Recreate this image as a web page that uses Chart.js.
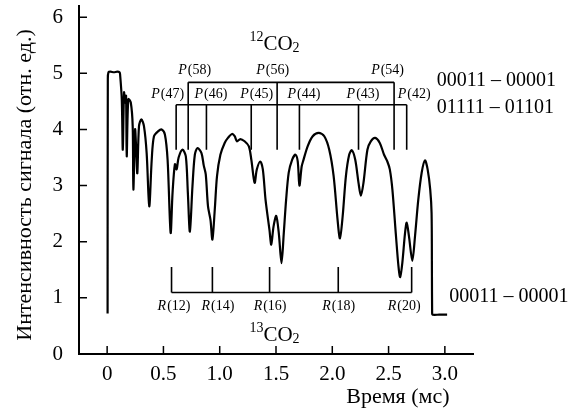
<!DOCTYPE html>
<html>
<head>
<meta charset="utf-8">
<script src="https://cdn.jsdelivr.net/npm/chart.js@4.4.1/dist/chart.umd.min.js"></script>
<style>
  body { margin: 0; background: #fff; }
  #wrap { width: 578px; height: 410px; }
</style>
</head>
<body>
<div id="wrap"><canvas id="chart"></canvas></div>
<script>
// signal trace, time in ms
const time = [
  0.004, 0.006, 0.012, 0.030, 0.060, 0.090, 0.110, 0.115, 0.130, 0.139,
  0.150, 0.159, 0.168, 0.174, 0.188, 0.210, 0.227, 0.233, 0.248, 0.257,
  0.268, 0.283, 0.304, 0.327, 0.351, 0.374, 0.396, 0.416, 0.454, 0.484,
  0.513, 0.537, 0.564, 0.581, 0.602, 0.617, 0.635, 0.670, 0.699, 0.717,
  0.735, 0.758, 0.779, 0.803, 0.838, 0.858, 0.876, 0.896, 0.918, 0.935,
  0.956, 0.976, 1.006, 1.044, 1.073, 1.109, 1.133, 1.153, 1.183, 1.221,
  1.259, 1.281, 1.310, 1.330, 1.360, 1.383, 1.407, 1.442, 1.458, 1.478,
  1.502, 1.525, 1.549, 1.569, 1.590, 1.613, 1.643, 1.673, 1.693, 1.708,
  1.728, 1.743, 1.781, 1.826, 1.879, 1.929, 1.973, 2.012, 2.047, 2.068,
  2.092, 2.121, 2.150, 2.174, 2.204, 2.233, 2.254, 2.277, 2.312, 2.342,
  2.381, 2.422, 2.460, 2.489, 2.511, 2.534, 2.564, 2.588, 2.603, 2.622,
  2.646, 2.661, 2.681, 2.711, 2.735, 2.764, 2.794, 2.823, 2.847, 2.870,
  2.882, 2.885, 2.887, 2.890, 2.950, 3.020
];
const signal = [
  0.72, 4.90, 5.02, 5.03, 5.02, 5.03, 5.02, 4.98, 4.54, 3.64,
  4.66, 4.48, 4.60, 3.52, 4.54, 4.48, 4.06, 2.93, 4.00, 3.70,
  3.22, 4.06, 4.18, 4.06, 3.58, 2.63, 3.46, 3.88, 3.97, 4.00,
  3.91, 3.46, 2.16, 2.87, 3.38, 3.29, 3.50, 3.64, 3.52, 2.87,
  2.18, 2.99, 3.55, 3.67, 3.58, 3.36, 3.20, 2.63, 2.39, 2.04,
  2.57, 3.17, 3.55, 3.76, 3.85, 3.92, 3.88, 3.79, 3.83, 3.79,
  3.70, 3.46, 3.05, 3.29, 3.43, 3.29, 2.75, 2.21, 1.95, 2.27,
  2.46, 2.15, 1.62, 2.15, 2.75, 3.23, 3.46, 3.55, 3.43, 3.00,
  3.34, 3.45, 3.70, 3.88, 3.94, 3.88, 3.64, 3.17, 2.39, 2.06,
  2.45, 3.17, 3.55, 3.63, 3.46, 3.05, 2.82, 3.05, 3.64, 3.79,
  3.85, 3.76, 3.55, 3.43, 3.29, 2.93, 2.15, 1.56, 1.37, 1.62,
  2.15, 2.34, 2.10, 1.66, 2.10, 2.75, 3.23, 3.45, 3.29, 2.93,
  2.51, 1.50, 0.72, 0.70, 0.70, 0.70
];

const xTicks = [0, 0.5, 1.0, 1.5, 2.0, 2.5, 3.0];
const yTicks = [0, 1, 2, 3, 4, 5, 6];

// line assignments (times of the marker lines)
const pUpperNames = ['P(58)', 'P(56)', 'P(54)'];
const pUpperPos = [0.720, 1.510, 2.549];
const pLowerNames = ['P(47)', 'P(46)', 'P(45)', 'P(44)', 'P(43)', 'P(42)'];
const pLowerPos = [0.613, 0.882, 1.280, 1.708, 2.233, 2.661];
const rNames = ['R(12)', 'R(14)', 'R(16)', 'R(18)', 'R(20)'];
const rPos = [0.572, 0.935, 1.443, 2.053, 2.705];

const bandLabels = ['00011 – 00001', '01111 – 01101', '00011 – 00001'];

Chart.defaults.font.family = '"Liberation Serif", serif';
Chart.defaults.color = '#000';

const SERIF = '"Liberation Serif", serif';

function drawLineLabel(ctx, name, cx, cy) {
  // italic branch letter + plain "(J)"
  const letter = name[0], rest = name.slice(1);
  ctx.font = 'italic 14px ' + SERIF;
  const w1 = ctx.measureText(letter).width;
  ctx.font = '14px ' + SERIF;
  const w2 = ctx.measureText(rest).width;
  let x0 = cx - (w1 + w2) / 2;
  ctx.textAlign = 'left';
  ctx.textBaseline = 'middle';
  ctx.font = 'italic 14px ' + SERIF;
  ctx.fillText(letter, x0, cy);
  ctx.font = '14px ' + SERIF;
  ctx.fillText(rest, x0 + w1 + 1, cy);
}

function drawIsotope(ctx, sup, main, sub, cx, base) {
  ctx.textBaseline = 'alphabetic';
  ctx.textAlign = 'left';
  ctx.font = '14px ' + SERIF;
  const ws = ctx.measureText(sup).width;
  const wb = ctx.measureText(sub).width;
  ctx.font = '21px ' + SERIF;
  const wm = ctx.measureText(main).width;
  let x0 = cx - (ws + wm + wb) / 2;
  ctx.font = '14px ' + SERIF;
  ctx.fillText(sup, x0, base - 9);
  ctx.font = '21px ' + SERIF;
  ctx.fillText(main, x0 + ws, base);
  ctx.font = '14px ' + SERIF;
  ctx.fillText(sub, x0 + ws + wm, base + 2);
}

const annotate = {
  id: 'annotate',
  afterDraw(chart) {
    const { ctx, chartArea, scales: { x, y } } = chart;
    const X = v => x.getPixelForValue(v);
    const Y = v => y.getPixelForValue(v);
    ctx.save();
    ctx.strokeStyle = '#000';
    ctx.fillStyle = '#000';

    // inward tick marks
    ctx.lineWidth = 1.5;
    ctx.beginPath();
    x.ticks.forEach(t => { const p = X(t.value); ctx.moveTo(p, chartArea.bottom); ctx.lineTo(p, chartArea.bottom - 8); });
    y.ticks.forEach(t => { const p = Y(t.value); ctx.moveTo(chartArea.left, p); ctx.lineTo(chartArea.left + 8, p); });
    ctx.stroke();

    // comb brackets
    function comb(pos, level, end) {
      ctx.beginPath();
      ctx.moveTo(X(pos[0]), Y(level));
      ctx.lineTo(X(pos[pos.length - 1]), Y(level));
      pos.forEach(p => { ctx.moveTo(X(p), Y(level)); ctx.lineTo(X(p), Y(end)); });
      ctx.stroke();
    }
    ctx.lineWidth = 1.6;
    comb(pUpperPos, 4.84, 3.64);
    comb(pLowerPos, 4.44, 3.64);
    comb(rPos, 1.095, 1.55);

    const upNudge = [6, -5, -7];
    pUpperNames.forEach((n, i) => drawLineLabel(ctx, n, X(pUpperPos[i]) + upNudge[i], Y(4.84) - 12));
    const lowNudge = [-9, 4, 5, 4, 4, 7];
    pLowerNames.forEach((n, i) => drawLineLabel(ctx, n, X(pLowerPos[i]) + lowNudge[i], Y(4.44) - 10));
    const rNudge = [2, 5, 0, 0, -8];
    rNames.forEach((n, i) => drawLineLabel(ctx, n, X(rPos[i]) + rNudge[i], Y(1.095) + 14));

    drawIsotope(ctx, '12', 'CO', '2', X(1.487), Y(5.41));
    drawIsotope(ctx, '13', 'CO', '2', X(1.487), Y(0.24));

    // band labels on the right
    ctx.font = '20px ' + SERIF;
    ctx.textAlign = 'left';
    ctx.textBaseline = 'alphabetic';
    ctx.fillText(bandLabels[0], X(2.929), Y(4.77));
    ctx.fillText(bandLabels[1], X(2.929), Y(4.30));
    ctx.fillText(bandLabels[2], X(3.04), Y(0.93));

    // axis titles
    ctx.font = '22px ' + SERIF;
    ctx.fillText('Время (мс)', X(2.124), chartArea.bottom + 49);
    ctx.translate(chartArea.left - 48, (chartArea.top + chartArea.bottom) / 2 + 5);
    ctx.rotate(-Math.PI / 2);
    ctx.textAlign = 'center';
    ctx.fillText('Интенсивность сигнала (отн. ед.)', 0, 0);
    ctx.restore();
  }
};

new Chart(document.getElementById('chart'), {
  type: 'line',
  data: {
    datasets: [{
      data: time.map((t, i) => ({ x: t, y: signal[i] })),
      borderColor: '#000',
      borderWidth: 2.2,
      pointRadius: 0,
      tension: 0.3,
      fill: false
    }]
  },
  options: {
    responsive: true,
    maintainAspectRatio: false,
    animation: false,
    layout: { padding: { top: 6, right: 105, bottom: 0, left: 0 } },
    plugins: { legend: { display: false }, tooltip: { enabled: false } },
    scales: {
      x: {
        type: 'linear',
        min: -0.25,
        max: 3.25,
        grid: { display: false, drawTicks: false },
        border: { display: true, color: '#000', width: 2 },
        afterBuildTicks: s => { s.ticks = xTicks.map(v => ({ value: v })); },
        afterFit: s => { s.height = 56; s.paddingLeft = 0; s.paddingRight = 0; },
        ticks: {
          padding: 8,
          maxRotation: 0,
          autoSkip: false,
          font: { size: 21 },
          callback: v => (v === 0 ? '0' : v.toFixed(1))
        }
      },
      y: {
        min: 0,
        max: 6.2,
        grid: { display: false, drawTicks: false },
        border: { display: true, color: '#000', width: 2 },
        afterBuildTicks: s => { s.ticks = yTicks.map(v => ({ value: v })); },
        afterFit: s => { s.width = 79; s.paddingTop = 0; s.paddingBottom = 0; },
        ticks: {
          padding: 16,
          font: { size: 21 },
          callback: v => String(v)
        }
      }
    }
  },
  plugins: [annotate]
});
</script>
</body>
</html>
